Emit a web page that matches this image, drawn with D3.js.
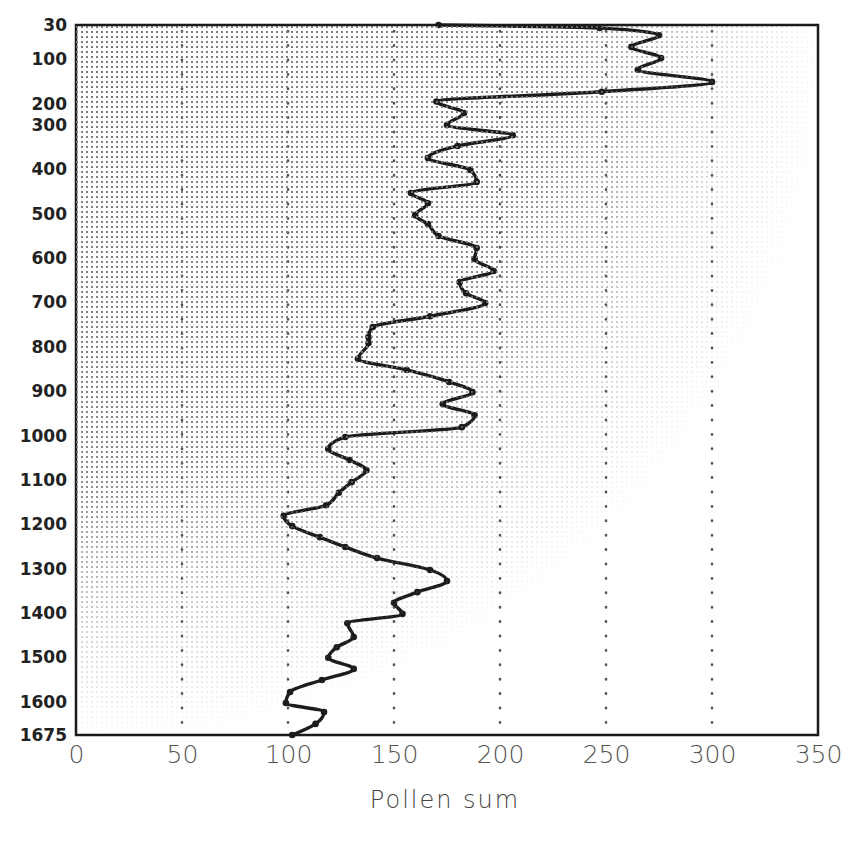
<!DOCTYPE html>
<html>
<head>
<meta charset="utf-8">
<script src="https://cdn.jsdelivr.net/npm/d3@7"></script>
<style>
  body { margin: 0; background: #fff; }
</style>
</head>
<body>
<div class="chart"></div>
<script>
// depth of each sample and its pollen sum
var depth = [30, 36, 51, 75, 98, 124, 151, 173, 195, 243,
    300, 323, 347, 374, 401, 428, 453, 476, 503, 523,
    550, 577, 602, 629, 654, 679, 701, 731, 755, 778,
    791, 827, 852, 879, 902, 929, 954, 981, 1003, 1030,
    1055, 1078, 1105, 1129, 1157, 1181, 1204, 1229, 1251, 1276,
    1303, 1328, 1353, 1377, 1402, 1423, 1454, 1477, 1501, 1526,
    1551, 1578, 1603, 1623, 1650, 1675];
var pollen = [171, 247, 275, 262, 276, 265, 300, 248, 170, 183,
    175, 206, 180, 166, 186, 189, 158, 166, 160, 166,
    171, 189, 188, 197, 181, 184, 193, 167, 140, 138,
    138, 133, 156, 176, 187, 173, 188, 182, 127, 119,
    129, 137, 130, 124, 118, 98, 102, 115, 127, 142,
    167, 175, 161, 150, 154, 128, 131, 123, 119, 131,
    116, 101, 99, 117, 113, 102];

var depthTicks = [30, 100, 200, 300, 400, 500, 600, 700, 800, 900, 1000,
    1100, 1200, 1300, 1400, 1500, 1600, 1675];
var pollenTicks = [0, 50, 100, 150, 200, 250, 300, 350];
var gridTicks = [50, 100, 150, 200, 250, 300];
var xTitle = "Pollen sum";

var W = 856, H = 848;
var margin = { top: 25, left: 76 };
var w = 742, h = 710;

var svg = d3.select(".chart").append("svg")
    .attr("width", W)
    .attr("height", H);

var defs = svg.append("defs");

// halftone shading of the scan
var pat = defs.append("pattern")
    .attr("id", "dots")
    .attr("patternUnits", "userSpaceOnUse")
    .attr("x", 1).attr("y", 1)
    .attr("width", 5)
    .attr("height", 5);
pat.append("rect").attr("width", 2).attr("height", 2).attr("fill", "#7a7a7a");

var grad = defs.append("radialGradient")
    .attr("id", "fade")
    .attr("cx", 0).attr("cy", 0).attr("r", 1.15)
    .attr("fx", 0).attr("fy", 0);
grad.append("stop").attr("offset", 0).attr("stop-color", "#fff").attr("stop-opacity", 1);
grad.append("stop").attr("offset", 0.55).attr("stop-color", "#fff").attr("stop-opacity", 0.9);
grad.append("stop").attr("offset", 0.72).attr("stop-color", "#fff").attr("stop-opacity", 0.4);
grad.append("stop").attr("offset", 0.88).attr("stop-color", "#fff").attr("stop-opacity", 0);

var mask = defs.append("mask").attr("id", "fadeMask");
mask.append("rect")
    .attr("x", margin.left).attr("y", margin.top)
    .attr("width", w).attr("height", h)
    .attr("fill", "url(#fade)");

var g = svg.append("g").attr("transform", "translate(" + margin.left + "," + margin.top + ")");

var x = d3.scaleLinear().domain([0, 350]).range([0, w]);
// the depth axis of the original is stretched at the top
var y = d3.scaleLinear()
    .domain([30, 100, 200, 300, 1675])
    .range([0, 0.048, 0.111, 0.141, 1].map(function (f) { return f * h; }));

svg.append("rect")
    .attr("x", margin.left).attr("y", margin.top)
    .attr("width", w).attr("height", h)
    .attr("fill", "url(#dots)")
    .attr("mask", "url(#fadeMask)");

g.append("g")
    .selectAll("line")
    .data(gridTicks)
    .enter().append("line")
    .attr("x1", function (d) { return x(d); })
    .attr("x2", function (d) { return x(d); })
    .attr("y1", 6)
    .attr("y2", h)
    .attr("stroke", "#555")
    .attr("stroke-width", 2.6)
    .attr("stroke-linecap", "round")
    .attr("stroke-dasharray", "0.4,14");

var pts = depth.map(function (d, i) { return { d: d, p: pollen[i] }; });

var line = d3.line()
    .x(function (d) { return x(d.p); })
    .y(function (d) { return y(d.d); })
    .curve(d3.curveMonotoneY);

g.append("path")
    .datum(pts)
    .attr("d", line)
    .attr("fill", "none")
    .attr("stroke", "#1c1c1c")
    .attr("stroke-width", 3.4)
    .attr("stroke-linejoin", "round");

g.append("g")
    .selectAll("circle")
    .data(pts)
    .enter().append("circle")
    .attr("cx", function (d) { return x(d.p); })
    .attr("cy", function (d) { return y(d.d); })
    .attr("r", 3.3)
    .attr("fill", "#1c1c1c");

g.append("rect")
    .attr("width", w)
    .attr("height", h)
    .attr("fill", "none")
    .attr("stroke", "#1a1a1a")
    .attr("stroke-width", 2.5);

var yAxis = g.append("g")
    .call(d3.axisLeft(y).tickValues(depthTicks).tickSize(0).tickPadding(9).tickFormat(d3.format("d")));
yAxis.select(".domain").remove();
yAxis.selectAll("text")
    .attr("font-family", "DejaVu Sans")
    .attr("font-weight", "bold")
    .attr("font-size", 17)
    .attr("fill", "#222");

var xAxis = g.append("g")
    .attr("transform", "translate(0," + h + ")")
    .call(d3.axisBottom(x).tickValues(pollenTicks).tickSize(0).tickPadding(10));
xAxis.select(".domain").remove();
xAxis.selectAll("text")
    .attr("font-family", "DejaVu Sans")
    .attr("font-weight", 200)
    .attr("font-size", 25)
    .attr("fill", "#555");

svg.append("text")
    .attr("x", margin.left + w / 2 - 2)
    .attr("y", 808)
    .attr("text-anchor", "middle")
    .attr("font-family", "DejaVu Sans")
    .attr("font-weight", 200)
    .attr("font-size", 24)
    .attr("letter-spacing", 2)
    .attr("fill", "#444")
    .text(xTitle);
</script>
</body>
</html>
